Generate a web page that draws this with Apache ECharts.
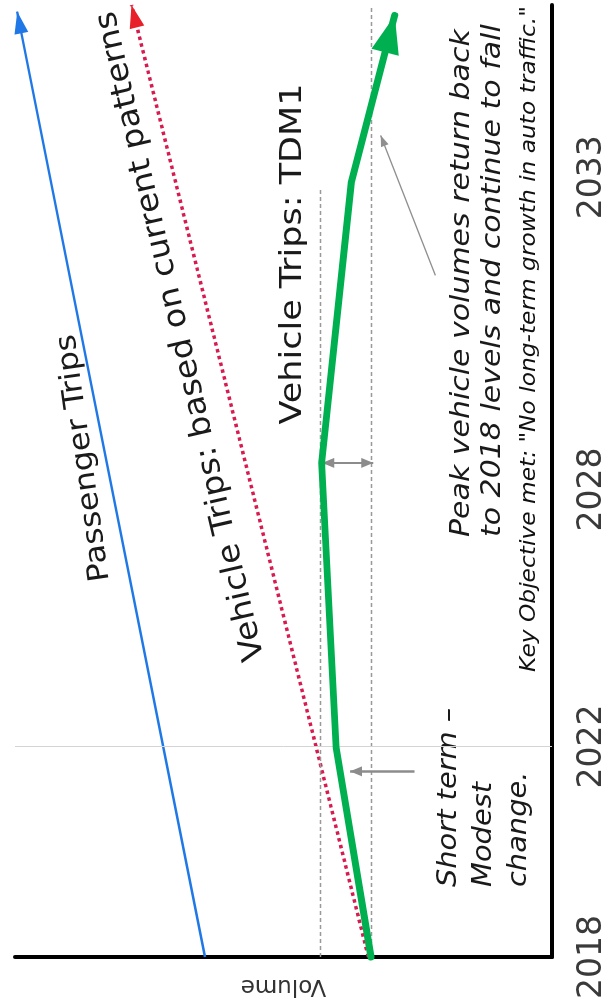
<!DOCTYPE html>
<html>
<head>
<meta charset="utf-8">
<script src="https://cdn.jsdelivr.net/npm/echarts@6/dist/echarts.min.js"></script>
<style>
html, body { margin: 0; padding: 0; background: #fff; overflow: hidden; }
/* the slide is drawn landscape and turned a quarter turn, like the source picture */
#main { position: absolute; left: 0; top: 0; width: 1005px; height: 609px;
        transform-origin: 0 0; transform: translate(0, 1005px) rotate(-90deg); }
</style>
</head>
<body>
<div id="main"></div>
<script>
// time axis: year labels and where they sit along the timeline (0..100)
const years = ['2018', '2022', '2028', '2033'];
const yearPos = [0, 22.1, 49.1, 81.9];

// Passenger Trips
const passengerPos = [0, 99.3];
const passengerVol = [64.6, 99.6];

// Vehicle Trips: based on current patterns
const currentPos = [0, 100];
const currentVol = [34.2, 78.3];

// Vehicle Trips: TDM1
const tdmPos = [0, 22.0, 51.9, 81.3, 98.9];
const tdmVol = [33.7, 40.2, 42.9, 37.4, 29.3];

// reference levels
const level2018 = 33.6;
const levelPeak = 43.1;

const FONT = '"DejaVu Sans", sans-serif';
const WIDE = 1.11; // the slide font runs wider than DejaVu

function pts(xs, ys) {
  return xs.map((x, i) => [x, ys[i]]);
}

// short piece at the end of the last segment, only to carry the arrow head
function tip(xs, ys, frac, color, size) {
  const n = xs.length;
  const x0 = xs[n - 2] + (xs[n - 1] - xs[n - 2]) * frac;
  const y0 = ys[n - 2] + (ys[n - 1] - ys[n - 2]) * frac;
  return [
    { coord: [x0, y0], symbol: 'none' },
    { coord: [xs[n - 1], ys[n - 1]], symbol: 'triangle', symbolSize: size, symbolOffset: [0, size[1] / 2],
      lineStyle: { color: color, width: 1, type: 'solid' } }
  ];
}

let myChart = echarts.init(document.getElementById('main'));

let option = {
  animation: false,
  backgroundColor: '#fff',
  grid: { left: 48, right: 5, top: 15, bottom: 54 },
  xAxis: {
    type: 'value',
    min: 0,
    max: 100,
    axisLine: { show: true, onZero: false, lineStyle: { color: '#000', width: 4 } },
    axisTick: { show: false },
    splitLine: { show: false },
    axisLabel: {
      customValues: yearPos,
      formatter: function (v) {
        let best = 0;
        for (let i = 0; i < yearPos.length; i++) {
          if (Math.abs(yearPos[i] - v) < Math.abs(yearPos[best] - v)) best = i;
        }
        return years[best];
      },
      fontSize: 33,
      fontFamily: FONT,
      color: '#3a3a3a',
      margin: 24
    }
  },
  yAxis: {
    type: 'value',
    min: 0,
    max: 100,
    name: 'Volume',
    nameLocation: 'middle',
    nameRotate: 90,
    nameGap: 17,
    nameTextStyle: { fontSize: 23, color: '#333', fontFamily: FONT },
    axisLine: { show: true, lineStyle: { color: '#000', width: 4 } },
    axisTick: { show: false },
    axisLabel: { show: false },
    splitLine: { show: false }
  },
  graphic: [
    { type: 'text', x: 547, y: 84, rotation: 8 * Math.PI / 180, scaleX: WIDE,
      style: { text: 'Passenger Trips', font: '29px ' + FONT, fill: '#1a1a1a', textAlign: 'center', textVerticalAlign: 'middle' } },
    { type: 'text', x: 669, y: 181, rotation: 13 * Math.PI / 180, scaleX: 1.08,
      style: { text: 'Vehicle Trips: based on current patterns', font: '31px ' + FONT, fill: '#1a1a1a', textAlign: 'center', textVerticalAlign: 'middle' } },
    { type: 'text', x: 751, y: 293, rotation: 0, scaleX: 1.13,
      style: { text: 'Vehicle Trips: TDM1', font: '31px ' + FONT, fill: '#1a1a1a', textAlign: 'center', textVerticalAlign: 'middle' } },
    { type: 'text', x: 118, y: 432, scaleX: WIDE,
      style: { text: 'Short term \u2013\nModest\nchange.', font: 'italic 26px ' + FONT, lineHeight: 35, fill: '#1a1a1a', textAlign: 'left', textVerticalAlign: 'top' } },
    { type: 'text', x: 468, y: 446, scaleX: WIDE,
      style: { text: 'Peak vehicle volumes return back\nto 2018 levels and continue to fall', font: 'italic 27px ' + FONT, lineHeight: 31, fill: '#1a1a1a', textAlign: 'left', textVerticalAlign: 'top' } },
    { type: 'text', x: 333, y: 530, scaleX: WIDE,
      style: { text: 'Key Objective met: "No long-term growth in auto traffic."', font: 'italic 21px ' + FONT, fill: '#111', textAlign: 'left', textVerticalAlign: 'middle' } }
  ],
  series: [
    {
      name: 'Passenger Trips',
      type: 'line',
      data: pts(passengerPos, passengerVol),
      symbol: 'none',
      lineStyle: { color: '#1f78e6', width: 2.5 },
      markLine: {
        silent: true, symbol: 'none', label: { show: false },
        lineStyle: { color: '#1f78e6' }, itemStyle: { color: '#1f78e6' },
        data: [tip(passengerPos, passengerVol, 0.985, '#1f78e6', [14, 22])]
      }
    },
    {
      name: 'Vehicle Trips: based on current patterns',
      type: 'line',
      data: pts(currentPos, currentVol),
      symbol: 'none',
      lineStyle: { color: '#d81b4f', width: 3.5, type: [3.5, 3.5] },
      markLine: {
        silent: true, symbol: 'none', label: { show: false },
        lineStyle: { color: '#e8202a' }, itemStyle: { color: '#e8202a' },
        data: [tip(currentPos, currentVol, 0.985, '#e8202a', [15, 23])]
      }
    },
    {
      name: 'Vehicle Trips: TDM1',
      type: 'line',
      data: pts(tdmPos, tdmVol),
      symbol: 'none',
      lineStyle: { color: '#00b050', width: 7, cap: 'round', join: 'round' },
      z: 5,
      markLine: {
        silent: true, symbol: 'none', label: { show: false },
        lineStyle: { color: '#00b050' }, itemStyle: { color: '#00b050' },
        data: [tip(tdmPos, tdmVol, 0.8, '#00b050', [28, 38])]
      }
    },
    {
      name: 'notes',
      type: 'line',
      data: [],
      markLine: {
        silent: true, symbol: 'none', label: { show: false },
        lineStyle: { color: '#999', width: 1.3, type: [4, 3] },
        data: [
          { yAxis: level2018 },
          [{ coord: [0, levelPeak] }, { coord: [80.8, levelPeak] }],
          { xAxis: yearPos[1], lineStyle: { color: '#d4d4d4', width: 1, type: 'solid' } },
          [{ coord: [19.5, 25.6], symbol: 'none' },
           { coord: [19.5, 37.6], symbol: 'triangle', symbolSize: [10, 12], symbolOffset: [0, 6],
             lineStyle: { color: '#8c8c8c', width: 2.5, type: 'solid' } }],
          [{ coord: [51.9, 42.8], symbol: 'triangle', symbolSize: [10, 12], symbolOffset: [0, 6] },
           { coord: [51.9, 33.3], symbol: 'triangle', symbolSize: [10, 12], symbolOffset: [0, 6],
             lineStyle: { color: '#8c8c8c', width: 2, type: 'solid' } }],
          [{ coord: [71.6, 21.7], symbol: 'none' },
           { coord: [86.3, 31.9], symbol: 'triangle', symbolSize: [8, 11], symbolOffset: [0, 5.5],
             lineStyle: { color: '#8f8f8f', width: 1.3, type: 'solid' } }]
        ]
      }
    }
  ]
};

myChart.setOption(option);
</script>
</body>
</html>
